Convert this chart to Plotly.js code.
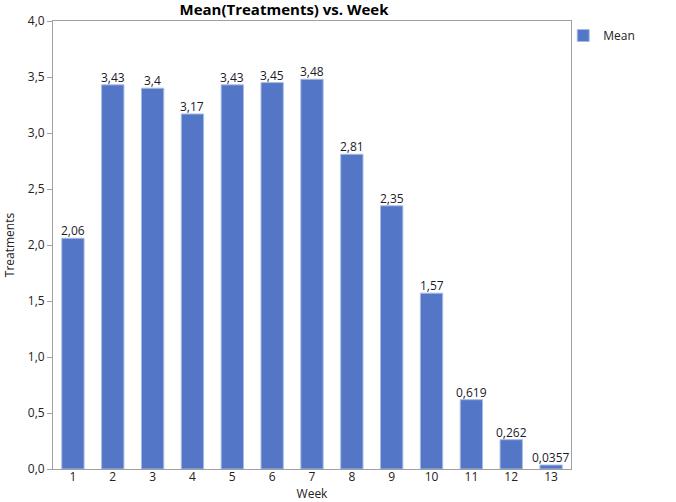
<!DOCTYPE html>
<html><head><meta charset="utf-8">
<script src="https://cdn.plot.ly/plotly-3.0.1.min.js"></script>
<style>html,body{margin:0;padding:0;background:#fff}#chart{width:676px;height:502px}</style>
</head><body><div id="chart"></div>
<script>
const weeks = ["1","2","3","4","5","6","7","8","9","10","11","12","13"];
const means = [2.06, 3.43, 3.4, 3.17, 3.43, 3.45, 3.48, 2.81, 2.35, 1.57, 0.619, 0.262, 0.0357];
const labels = means.map(v => String(v).replace('.', ','));
const FONT = "'Open Sans', 'Noto Sans', sans-serif";
const trace = {
  type: 'bar', x: weeks, y: means, name: 'Mean',
  marker: {color: '#5377C6', line: {color: '#A9BBE3', width: 1}},
  hoverinfo: 'x+y'
};
// on a category axis, annotation x is the category index
const valueNotes = weeks.map((w, i) => ({
  x: i, y: means[i], xref: 'x', yref: 'y', text: labels[i], showarrow: false,
  yanchor: 'bottom', yshift: -3, font: {family: FONT, size: 12, color: '#1a1a2a'}
}));
const layout = {
  width: 676, height: 502,
  margin: {l: 53, r: 105, t: 21, b: 33},
  paper_bgcolor: '#fff', plot_bgcolor: '#fff',
  separators: ',.',
  font: {family: FONT, size: 12, color: '#222'},
  bargap: 0.44,
  title: {text: '<b>Mean(Treatments) vs. Week</b>', font: {family: FONT, size: 15, color: '#000'},
          xref: 'paper', x: 0.446, xanchor: 'center', yref: 'container', y: 0.981, yanchor: 'middle'},
  xaxis: {type: 'category', showline: true, linecolor: '#A0A0A0', linewidth: 1, mirror: true,
          range: [-0.5, weeks.length - 0.5], ticklabelstandoff: -3,
          ticks: '', showgrid: false, tickfont: {size: 12, color: '#222'},
          title: {text: 'Week', font: {size: 12, color: '#222'}, standoff: 0}},
  yaxis: {range: [0, 4], dtick: 0.5, tickformat: '.1f', showline: true, linecolor: '#A0A0A0', linewidth: 1,
          mirror: true, ticks: 'outside', ticklen: 5, tickcolor: '#A0A0A0', showgrid: false, zeroline: false,
          tickfont: {size: 12, color: '#222'},
          title: {text: 'Treatments', font: {size: 12, color: '#222'}, standoff: 10}},
  annotations: valueNotes,
  showlegend: true,
  legend: {x: 0.985, xanchor: 'left', y: 1.0, yanchor: 'top', bgcolor: 'rgba(0,0,0,0)',
           font: {size: 12, color: '#222'}, itemwidth: 30, tracegroupgap: 0}
};
Plotly.newPlot('chart', [trace], layout, {displayModeBar: false, staticPlot: true});
</script></body></html>
